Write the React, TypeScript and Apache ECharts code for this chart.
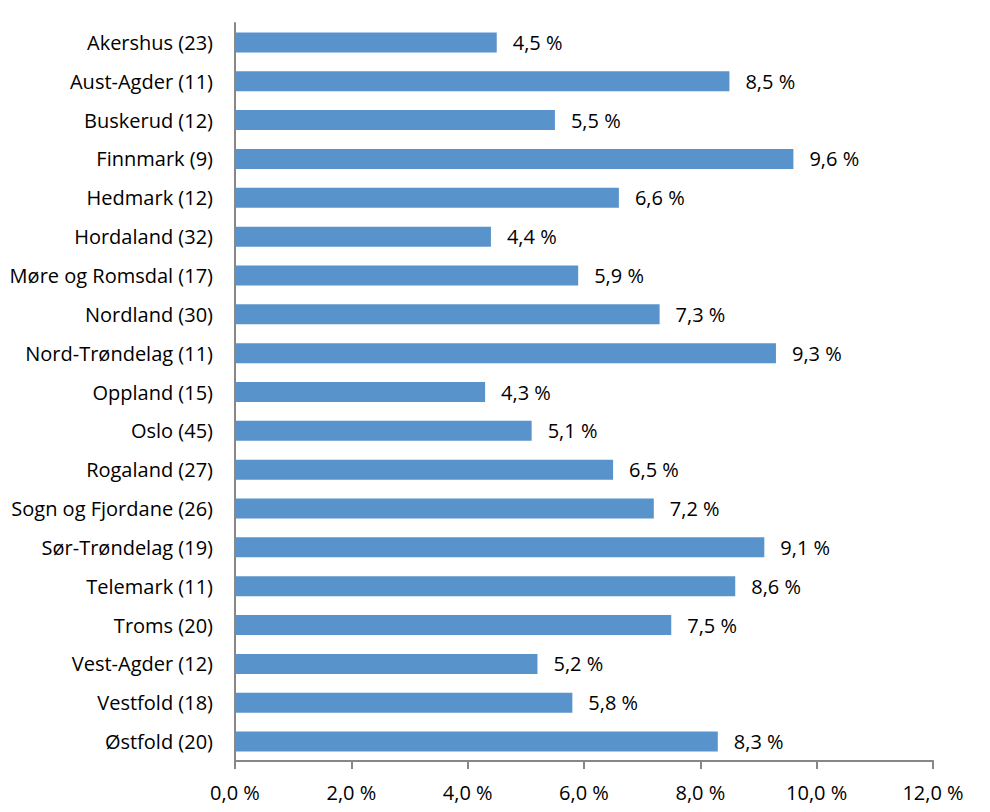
import React, { useEffect, useRef } from "react";
import * as echarts from "echarts";

const categories = [
  "Akershus (23)",
  "Aust-Agder (11)",
  "Buskerud (12)",
  "Finnmark (9)",
  "Hedmark (12)",
  "Hordaland (32)",
  "Møre og Romsdal (17)",
  "Nordland (30)",
  "Nord-Trøndelag (11)",
  "Oppland (15)",
  "Oslo (45)",
  "Rogaland (27)",
  "Sogn og Fjordane (26)",
  "Sør-Trøndelag (19)",
  "Telemark (11)",
  "Troms (20)",
  "Vest-Agder (12)",
  "Vestfold (18)",
  "Østfold (20)",
];

const values = [4.5, 8.5, 5.5, 9.6, 6.6, 4.4, 5.9, 7.3, 9.3, 4.3, 5.1, 6.5, 7.2, 9.1, 8.6, 7.5, 5.2, 5.8, 8.3];

const xMin = 0;
const xMax = 12;
const xInterval = 2;

const fmt = (v: number) => v.toFixed(1).replace(".", ",") + " %";

export default function App() {
  const ref = useRef<HTMLDivElement>(null);
  useEffect(() => {
    if (!ref.current) return;
    const chart = echarts.init(ref.current, undefined, { renderer: "svg" });
    const font = "'Open Sans', 'Noto Sans', sans-serif";
    chart.setOption({
      animation: false,
      textStyle: { fontFamily: font },
      grid: { left: 235, right: 57, top: 23, bottom: 51, containLabel: false },
      xAxis: {
        type: "value",
        min: xMin,
        max: xMax,
        interval: xInterval,
        axisLine: { show: true, lineStyle: { color: "#878787", width: 2 } },
        axisTick: { show: true, length: 8, lineStyle: { color: "#878787", width: 2 } },
        splitLine: { show: false },
        axisLabel: {
          color: "#000",
          fontSize: 20,
          fontFamily: font,
          margin: 21,
          formatter: (v: number) => fmt(v),
        },
      },
      yAxis: {
        type: "category",
        data: categories,
        inverse: true,
        axisLine: { show: true, lineStyle: { color: "#878787", width: 2 } },
        axisTick: { show: false },
        axisLabel: { color: "#000", fontSize: 20, fontFamily: font, margin: 22 },
      },
      series: [
        {
          type: "bar",
          data: values,
          barWidth: 20,
          itemStyle: { color: "#5893CB" },
          label: {
            show: true,
            position: "right",
            distance: 16,
            color: "#000",
            fontSize: 20,
            fontFamily: font,
            formatter: (p: any) => fmt(p.value),
          },
        },
      ],
    });
    return () => chart.dispose();
  }, []);
  return <div ref={ref} style={{ width: 990, height: 812, position: "absolute", left: 0, top: 0, background: "#fff" }} />;
}
